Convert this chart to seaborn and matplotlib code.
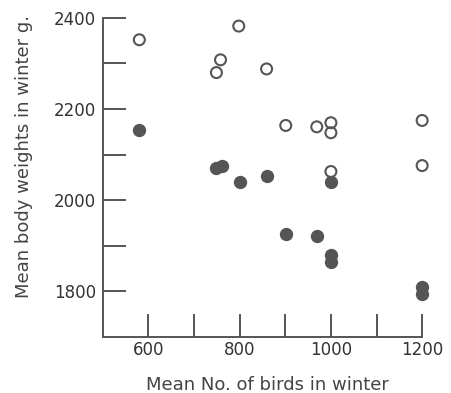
import matplotlib
matplotlib.use("Agg")
import matplotlib.pyplot as plt
import seaborn as sns
import pandas as pd

# Mean No. of birds in winter vs mean body weight (g)
open_birds = [580, 749, 758, 798, 859, 901, 969, 1000, 1000, 1000, 1200, 1200]
open_weight = [2352, 2280, 2308, 2382, 2288, 2164, 2161, 2170, 2148, 2063, 2175, 2076]
filled_birds = [580, 749, 762, 800, 859, 901, 969, 1000, 1000, 1000, 1200, 1200]
filled_weight = [2153, 2071, 2075, 2039, 2054, 1927, 1921, 2039, 1879, 1864, 1809, 1794]

x_ticks = [600, 700, 800, 900, 1000, 1100, 1200]
x_labels = ["600", "", "800", "", "1000", "", "1200"]
y_ticks = [1800, 1900, 2000, 2100, 2200, 2300, 2400]
y_labels = ["1800", "", "2000", "", "2200", "", "2400"]

ink = "#555555"

df_open = pd.DataFrame({"birds": open_birds, "weight": open_weight})
df_filled = pd.DataFrame({"birds": filled_birds, "weight": filled_weight})

sns.set_theme(style="ticks")
plt.rcParams["font.family"] = ["DejaVu Sans"]

fig = plt.figure(figsize=(4.51, 3.93), dpi=100)
ax = fig.add_axes([0.228, 0.1425, 0.708, 0.812])

sns.scatterplot(data=df_open, x="birds", y="weight", ax=ax, s=62,
                color=ink, edgecolor=ink, linewidth=1.5, clip_on=False)
ax.collections[-1].set_facecolor("none")
sns.scatterplot(data=df_filled, x="birds", y="weight", ax=ax, s=92,
                color=ink, edgecolor=ink, linewidth=0, clip_on=False)

ax.set_xlim(500, 1200)
ax.set_ylim(1700, 2400)
ax.set_xticks(x_ticks)
ax.set_xticklabels(x_labels)
ax.set_yticks(y_ticks)
ax.set_yticklabels(y_labels)

ax.tick_params(axis="both", direction="in", length=16.5, width=1.4,
               color=ink, labelcolor="#333333", labelsize=12)
ax.tick_params(axis="x", pad=3)
ax.tick_params(axis="y", pad=5)

sns.despine(ax=ax)
for side in ["left", "bottom"]:
    ax.spines[side].set_color(ink)
    ax.spines[side].set_linewidth(1.4)

ax.set_xlabel("Mean No. of birds in winter", fontsize=13, color="#444444")
ax.set_ylabel("Mean body weights in winter g.", fontsize=13, color="#444444")
ax.xaxis.set_label_coords(0.515, -0.122)
ax.yaxis.set_label_coords(-0.22, 0.565)

fig.savefig("out.png", dpi=100, facecolor="white")
